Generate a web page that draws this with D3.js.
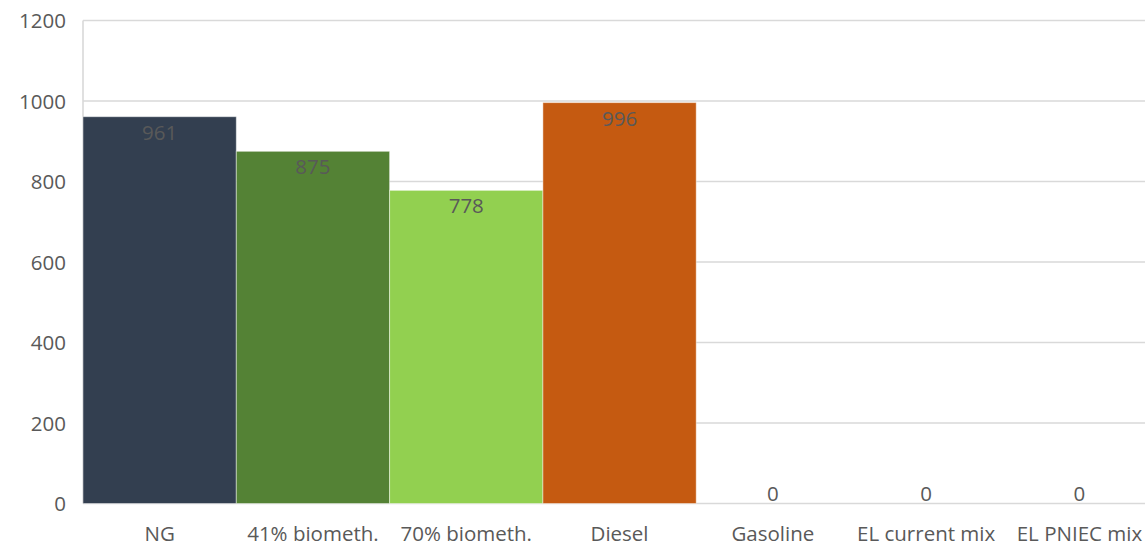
<!DOCTYPE html>
<html>
<head>
<meta charset="utf-8">
<script src="https://cdn.jsdelivr.net/npm/d3@7"></script>
<style>
  html, body { margin: 0; padding: 0; background: #fff; overflow: hidden; }
  svg { display: block; font-family: "Open Sans", "Liberation Sans", sans-serif; }
</style>
</head>
<body>
<svg id="chart" width="1145" height="546"></svg>
<script>
// Fuel categories and their values
const categories = ["NG", "41% biometh.", "70% biometh.", "Diesel", "Gasoline", "EL current mix", "EL PNIEC mix"];
const values = [961, 875, 778, 996, 0, 0, 0];
const barColors = ["#333F50", "#548235", "#92D050", "#C55A11", "#4472C4", "#A5A5A5", "#FFC000"];
const yTicks = [0, 200, 400, 600, 800, 1000, 1200];

const svg = d3.select("#chart");
const margin = { left: 83, top: 20.5, bottom: 503.5 };
const plotRight = 83 + 7 * 153.3;
const fontSize = 20.5;

const x = d3.scaleBand()
  .domain(categories)
  .range([margin.left, plotRight])
  .paddingInner(0)
  .paddingOuter(0);

const y = d3.scaleLinear()
  .domain([0, 1200])
  .range([margin.bottom, margin.top]);

// Horizontal gridlines
svg.append("g")
  .selectAll("line")
  .data(yTicks)
  .join("line")
  .attr("x1", margin.left)
  .attr("x2", plotRight)
  .attr("y1", d => y(d))
  .attr("y2", d => y(d))
  .attr("stroke", "#d9d9d9")
  .attr("stroke-width", 1.6);

// Left axis line
svg.append("line")
  .attr("x1", margin.left).attr("x2", margin.left)
  .attr("y1", y(1200)).attr("y2", y(0))
  .attr("stroke", "#d9d9d9")
  .attr("stroke-width", 1.6);

// Y tick labels
svg.append("g")
  .selectAll("text")
  .data(yTicks)
  .join("text")
  .attr("x", 66)
  .attr("y", d => y(d) + 7.5)
  .attr("text-anchor", "end")
  .attr("fill", "#595959")
  .attr("font-size", fontSize)
  .text(d => d);

// Bars
svg.append("g")
  .selectAll("rect")
  .data(values)
  .join("rect")
  .attr("x", (d, i) => x(categories[i]))
  .attr("width", x.bandwidth())
  .attr("y", d => y(d))
  .attr("height", d => y(0) - y(d))
  .attr("fill", (d, i) => barColors[i])
  .attr("stroke", "#ffffff")
  .attr("stroke-opacity", 0.45)
  .attr("stroke-width", 1)
  .attr("visibility", d => d > 0 ? "visible" : "hidden");

// Value labels, inside the top of each bar
svg.append("g")
  .selectAll("text")
  .data(values)
  .join("text")
  .attr("x", (d, i) => x(categories[i]) + x.bandwidth() / 2)
  .attr("y", d => Math.min(y(d) + 23, y(0) - 2.5))
  .attr("text-anchor", "middle")
  .attr("fill", "#595959")
  .attr("font-size", fontSize)
  .text(d => d);

// Category labels
svg.append("g")
  .selectAll("text")
  .data(categories)
  .join("text")
  .attr("x", d => x(d) + x.bandwidth() / 2)
  .attr("y", 541)
  .attr("text-anchor", "middle")
  .attr("fill", "#595959")
  .attr("font-size", fontSize)
  .text(d => d);
</script>
</body>
</html>
